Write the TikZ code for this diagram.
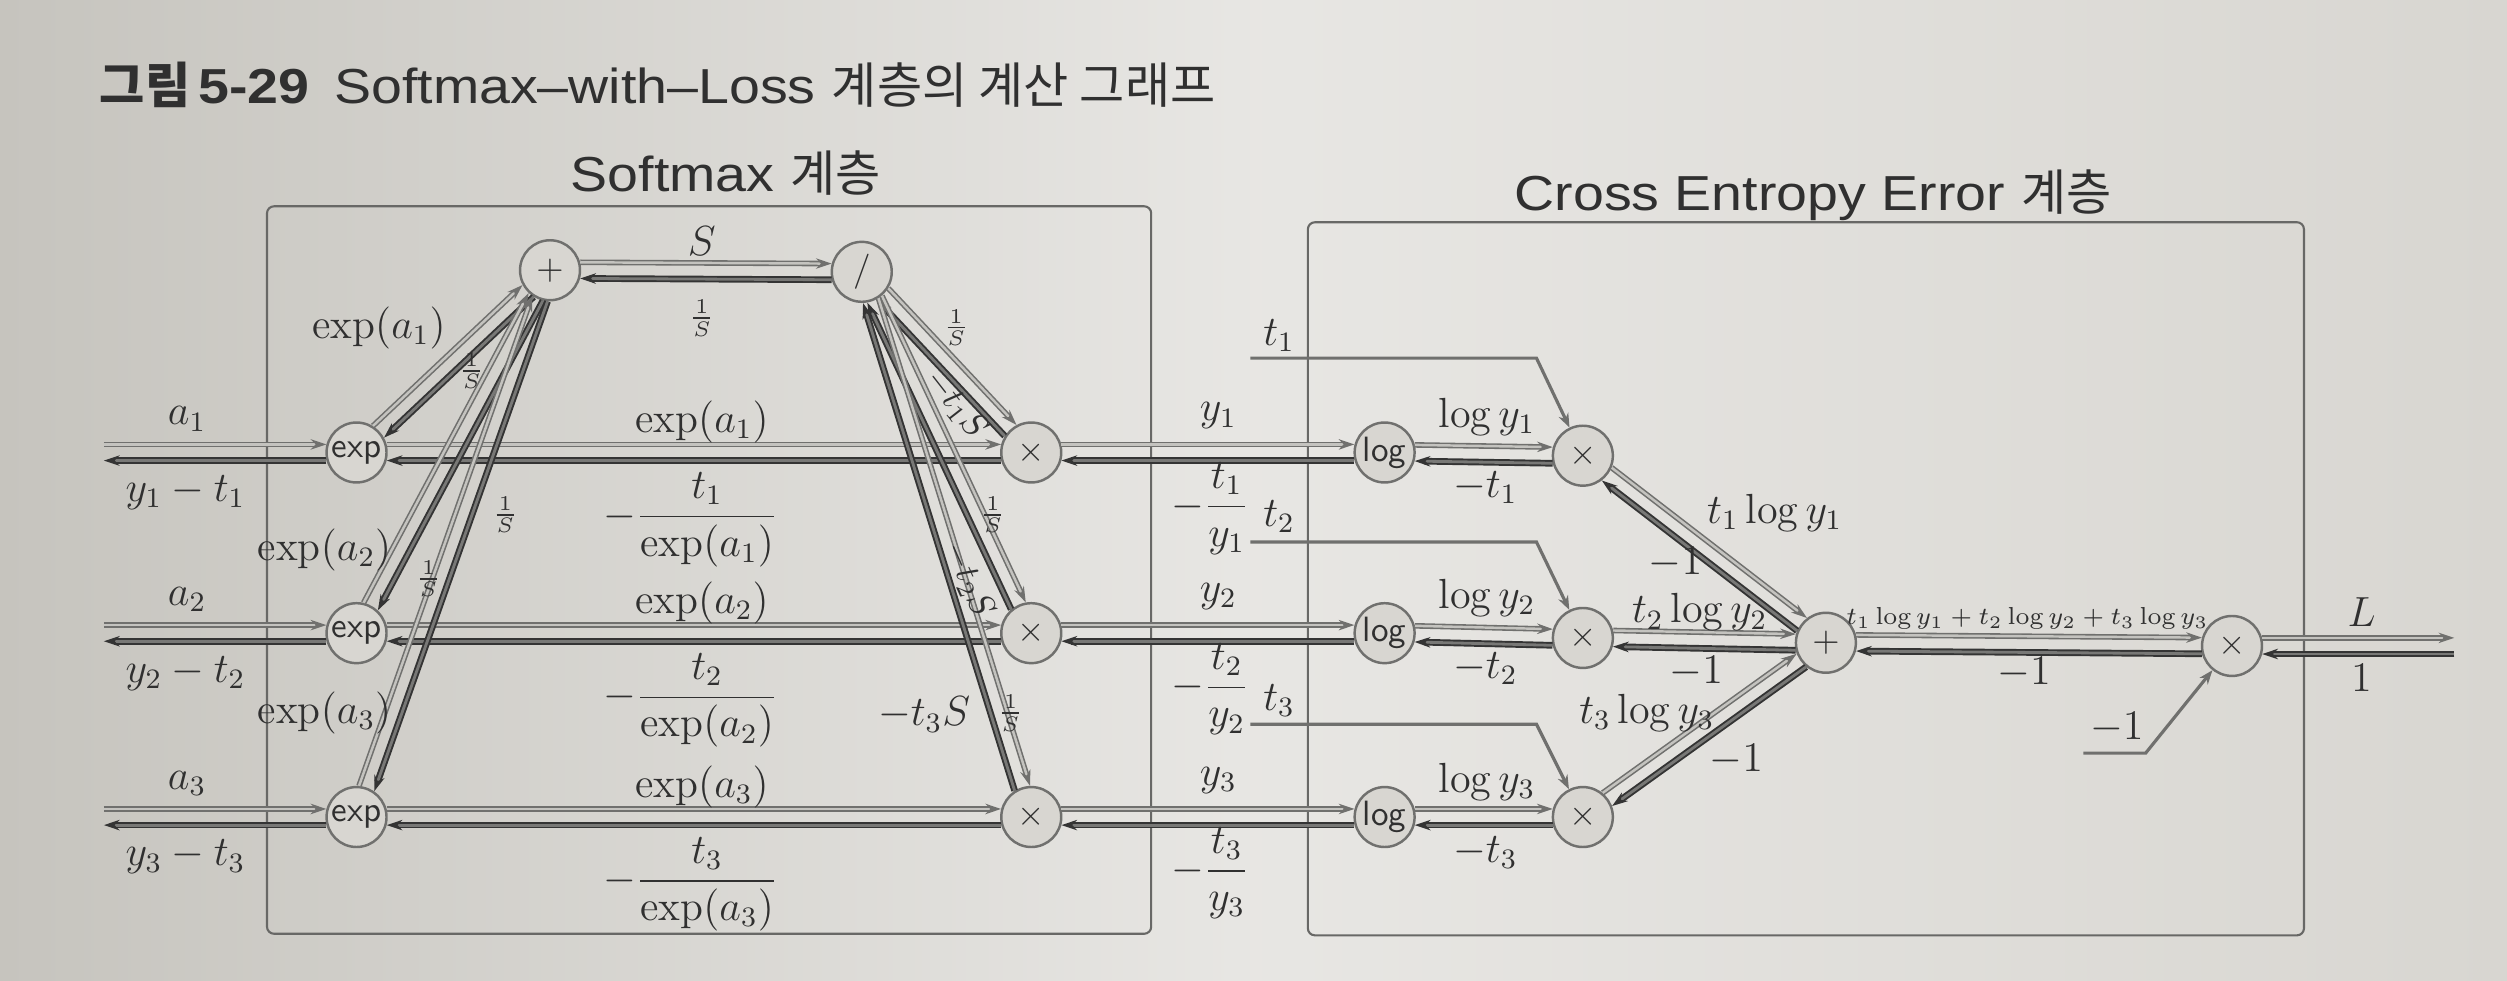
\documentclass[tikz,border=0pt]{standalone}
\usepackage{fontspec}
\usepackage{tikz}
\usetikzlibrary{arrows.meta, positioning, calc}
\newfontfamily\krfont{Noto Sans CJK KR}
\newfontfamily\latinsans{Liberation Sans}[FakeStretch=1.13]
\definecolor{paper}{RGB}{216,214,209}
\definecolor{paperdark}{RGB}{198,196,190}
\definecolor{ink}{RGB}{48,48,48}
\definecolor{fwdgray}{RGB}{112,112,110}
\definecolor{fwdfill}{RGB}{196,195,191}
\definecolor{bwdgray}{RGB}{52,52,52}
\definecolor{bwdfill}{RGB}{120,120,118}
\definecolor{boxgray}{RGB}{104,104,102}

\begin{document}
\begin{tikzpicture}[x=0.016cm, y=-0.016cm,
      op/.style={circle, draw=fwdgray, fill=paper, line width=0.7pt, minimum size=0.6cm, inner sep=0pt, font=\sffamily, text=ink},
      fwd/.style={draw=fwdgray, line width=0.45pt, double=fwdfill, double distance=0.7pt, -{Stealth[length=4.5pt, width=3pt]}, shorten >=8.6pt},
      bwd/.style={draw=bwdgray, line width=0.55pt, double=bwdfill, double distance=0.8pt, -{Stealth[length=4.5pt, width=3pt]}, shorten >=8.6pt},
      feed/.style={draw=fwdgray, line width=0.9pt, -{Stealth[length=4pt, width=3pt]}},
      layer/.style={draw=boxgray, line width=0.6pt, rounded corners=2pt},
      lbl/.style={text=ink, font=\large, inner sep=0pt},
      tiny/.style={text=ink, font=\footnotesize, inner sep=0pt},
      heading/.style={text=ink, font=\fontsize{14}{16}\selectfont, inner sep=0pt}
    ]
    % Paper
    \shade[left color=paperdark, right color=paper, middle color=paper!60!white] (0,0) rectangle (1568,613);
    \useasboundingbox (0,0) rectangle (1568,613);

    % Title
    \node[heading, anchor=west] (title) at (62,53) {{\krfont\bfseries 그림}\,{\latinsans\bfseries 5-29}\enspace{\latinsans Softmax–with–Loss} {\krfont 계층의 계산 그래프}};

    % Layers
    \draw[layer] (167,129) rectangle (720,584);
    \draw[layer] (818,139) rectangle (1441,585);
    \node[heading] (smaxtitle) at (454,108) {{\latinsans Softmax} {\krfont 계층}};
    \node[heading] (ceetitle) at (1134,122) {{\latinsans Cross Entropy Error} {\krfont 계층}};

    % Softmax nodes
    \node[op] (exp1) at (223,283) {exp};
    \node[op] (exp2) at (223,396) {exp};
    \node[op] (exp3) at (223,511) {exp};
    \node[op] (plus) at (344,169) {$+$};
    \node[op] (div) at (539,170) {$/$};
    \node[op] (tm1) at (645,283) {$\times$};
    \node[op] (tm2) at (645,396) {$\times$};
    \node[op] (tm3) at (645,511) {$\times$};

    % Cross entropy nodes
    \node[op] (log1) at (866,283) {log};
    \node[op] (log2) at (866,396) {log};
    \node[op] (log3) at (866,511) {log};
    \node[op] (mul1) at (990,285) {$\times$};
    \node[op] (mul2) at (990,399) {$\times$};
    \node[op] (mul3) at (990,511) {$\times$};
    \node[op] (sum) at (1142,402) {$+$};
    \node[op] (fin) at (1396,404) {$\times$};

    % Free ends
    \coordinate (in1) at (65,283);
    \coordinate (in2) at (65,396);
    \coordinate (in3) at (65,511);
    \coordinate (out) at (1535,404);

    % Forward (upper) and backward (lower) edges
    \foreach \a/\b in {exp1/tm1, exp2/tm2, exp3/tm3, exp1/plus, exp2/plus, exp3/plus,
        plus/div, div/tm1, div/tm2, div/tm3, tm1/log1, tm2/log2, tm3/log3,
        log1/mul1, log2/mul2, log3/mul3, mul1/sum, mul2/sum, mul3/sum, sum/fin} {
      \draw[fwd, shorten <=8.6pt] ($(\a)!2.3pt!90:(\b)$) -- ($(\b)!2.3pt!-90:(\a)$);
      \draw[bwd, shorten <=8.6pt] ($(\b)!2.3pt!90:(\a)$) -- ($(\a)!2.3pt!-90:(\b)$);
    }
    \foreach \i in {1,2,3} {
      \draw[fwd] ($(in\i)!2.3pt!90:(exp\i)$) -- ($(exp\i)!2.3pt!-90:(in\i)$);
      \draw[bwd, shorten <=8.6pt, shorten >=0pt] ($(exp\i)!2.3pt!90:(in\i)$) -- ($(in\i)!2.3pt!-90:(exp\i)$);
    }
    \draw[fwd, shorten <=8.6pt, shorten >=0pt] ($(fin)!2.3pt!90:(out)$) -- ($(out)!2.3pt!-90:(fin)$);
    \draw[bwd] ($(out)!2.3pt!90:(fin)$) -- ($(fin)!2.3pt!-90:(out)$);

    % Label feeds
    \coordinate (t1s) at (782,224);
    \coordinate (t1b) at (961,224);
    \coordinate (t2s) at (782,339);
    \coordinate (t2b) at (961,339);
    \coordinate (t3s) at (782,453);
    \coordinate (t3b) at (961,453);
    \coordinate (cs) at (1303,471);
    \coordinate (cb) at (1342,471);
    \draw[feed] (t1s) -- (t1b) -- (mul1);
    \draw[feed] (t2s) -- (t2b) -- (mul2);
    \draw[feed] (t3s) -- (t3b) -- (mul3);
    \draw[feed] (cs) -- (cb) -- (fin);

    % Row labels
    \foreach \i/\y in {1/283, 2/396, 3/511} {
      \node[lbl] (ina\i) at (117,\y-21) {$a_\i$};
      \node[lbl] (inb\i) at (116,\y+25) {$y_\i-t_\i$};
      \node[lbl] (expf\i) at (439,\y-19) {$\exp(a_\i)$};
      \node[lbl] (expb\i) at (432,\y+42) {$-\displaystyle\frac{t_\i}{\exp(a_\i)}$};
      \node[lbl] (yf\i) at (762,\y-23) {$y_\i$};
      \node[lbl] (yb\i) at (757,\y+35) {$-\displaystyle\frac{t_\i}{y_\i}$};
      \node[lbl] (tin\i) at (800,\y-73) {$t_\i$};
      \node[lbl] (logf\i) at (930,\y-22) {$\log y_\i$};
      \node[lbl] (logb\i) at (929,\y+22) {$-t_\i$};
    }

    % Softmax labels
    \node[lbl] (sumf1) at (237,205) {$\exp(a_1)$};
    \node[lbl] (sumf2) at (203,344) {$\exp(a_2)$};
    \node[lbl] (sumf3) at (203,446) {$\exp(a_3)$};
    \node[tiny] (sumb1) at (295,232) {$\frac{1}{S}$};
    \node[tiny] (sumb2) at (268,362) {$\frac{1}{S}$};
    \node[tiny] (sumb3) at (316,322) {$\frac{1}{S}$};
    \node[lbl] (divf) at (439,151) {$S$};
    \node[tiny] (divb) at (439,199) {$\frac{1}{S}$};
    \node[tiny] (tmf1) at (598,205) {$\frac{1}{S}$};
    \node[tiny] (tmf2) at (621,322) {$\frac{1}{S}$};
    \node[tiny] (tmf3) at (632,446) {$\frac{1}{S}$};
    \node[text=ink, inner sep=0pt, rotate=-52] (tmb1) at (598,253) {$-t_1S$};
    \node[text=ink, inner sep=0pt, rotate=-66] (tmb2) at (606,363) {$-t_2S$};
    \node[lbl] (tmb3) at (578,447) {$-t_3S$};

    % Cross entropy labels
    \node[lbl] (mulf1) at (1110,321) {$t_1\log y_1$};
    \node[lbl] (mulb1) at (1048,352) {$-1$};
    \node[lbl] (mulf2) at (1063,383) {$t_2\log y_2$};
    \node[lbl] (mulb2) at (1061,420) {$-1$};
    \node[lbl] (mulf3) at (1030,446) {$t_3\log y_3$};
    \node[lbl] (mulb3) at (1086,475) {$-1$};
    \node[text=ink, font=\scriptsize, inner sep=0pt] (finf) at (1268,387) {$t_1\log y_1+t_2\log y_2+t_3\log y_3$};
    \node[lbl] (finb) at (1266,421) {$-1$};
    \node[lbl] (outf) at (1477,383) {$L$};
    \node[lbl] (outb) at (1477,424) {$1$};
    \node[lbl] (const) at (1324,455) {$-1$};
  \end{tikzpicture}
\end{document}
